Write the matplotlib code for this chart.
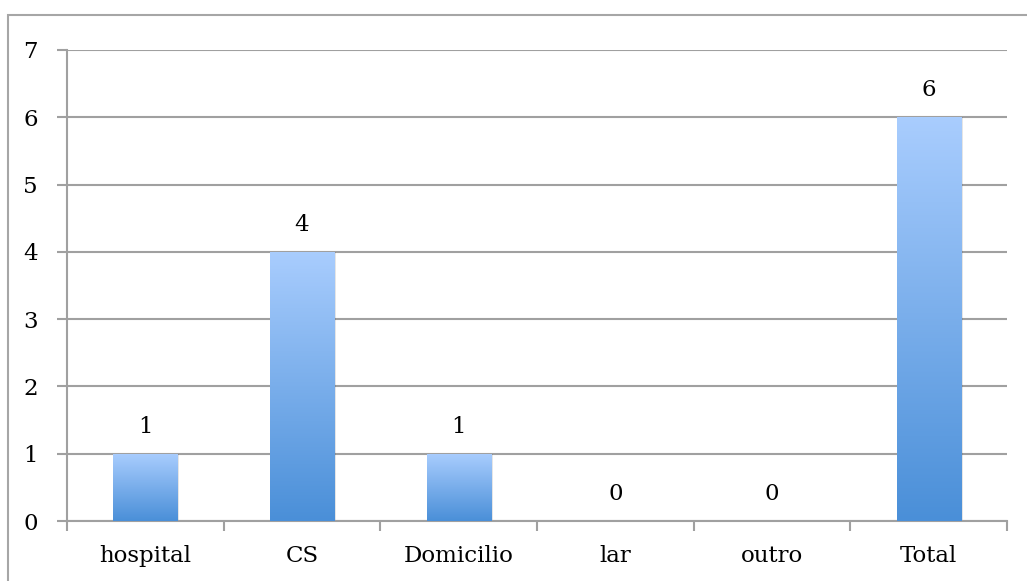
import numpy as np
import matplotlib.pyplot as plt
from matplotlib.patches import Rectangle
from matplotlib.colors import LinearSegmentedColormap

categorias = ['hospital', 'CS', 'Domicilio', 'lar', 'outro', 'Total']
valores = [1, 4, 1, 0, 0, 6]

plt.rcParams['font.family'] = ['DejaVu Serif']

W, H = 1027, 581
fig = plt.figure(figsize=(W / 100, H / 100), dpi=100)

# outer chart frame (runs off the right and bottom edges)
fig.patches.append(Rectangle((8 / W, -0.05), 1.1, 1.05 - 15 / H,
                             transform=fig.transFigure, fill=False,
                             edgecolor='#a6a6a6', linewidth=1.5))

ax = fig.add_axes([67 / W, (H - 521) / H, 940 / W, 471 / H])

grid_col = '#a0a0a0'
fs = 16.5
x = np.arange(len(categorias))
bars = ax.bar(x, valores, width=0.41, color='none', zorder=3)

# vertical gradient inside each bar, light at the top
cmap = LinearSegmentedColormap.from_list('barra', ['#4a8fd8', '#a9cdfe'])
grad = np.linspace(0, 1, 256).reshape(-1, 1)
for b, v in zip(bars, valores):
    if v <= 0:
        continue
    x0, w = b.get_x(), b.get_width()
    # soft shadow on the right side
    ax.add_patch(Rectangle((x0 + 0.012, 0), w, v, facecolor='#000000',
                           alpha=0.10, linewidth=0, zorder=2))
    im = ax.imshow(grad, cmap=cmap, origin='lower', aspect='auto',
                   extent=(x0, x0 + w, 0, v), zorder=3)
    im.set_clip_path(b)

for i, v in enumerate(valores):
    ax.text(i, v + 0.24, str(v), ha='center', va='bottom', fontsize=fs, zorder=4)

ax.set_xlim(-0.5, len(categorias) - 0.5)
ax.set_ylim(0, 7)
ax.set_yticks(range(8))
ax.yaxis.grid(True, color=grid_col, linewidth=1.5, zorder=0)
ax.set_axisbelow(True)

ax.set_xticks(x)
ax.set_xticklabels(categorias, fontsize=fs)
ax.set_xticks(np.arange(-0.5, len(categorias)), minor=True)
ax.tick_params(axis='x', which='major', length=0, pad=17)
ax.tick_params(axis='x', which='minor', length=7, width=1.5, color=grid_col)
ax.tick_params(axis='y', length=7, width=1.5, color=grid_col, labelsize=fs, pad=14)

for s in ['top', 'right']:
    ax.spines[s].set_visible(False)
for s in ['left', 'bottom']:
    ax.spines[s].set_color(grid_col)
    ax.spines[s].set_linewidth(1.5)

fig.savefig('out.png', dpi=100)
